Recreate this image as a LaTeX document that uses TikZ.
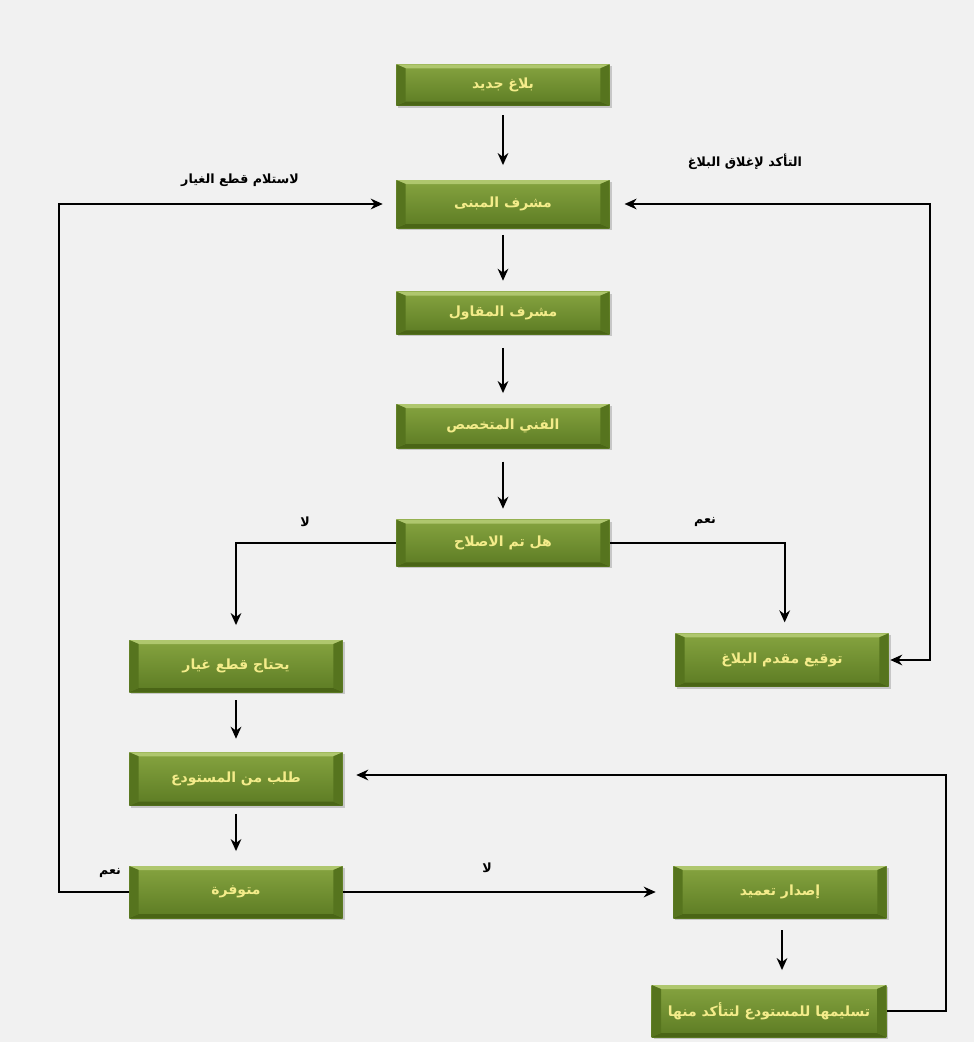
\documentclass[tikz,border=0pt]{standalone}
\usepackage{fontspec}
\newfontfamily\arabicfont[Script=Arabic]{DejaVu Sans}
\TeXXeTstate=1
\usetikzlibrary{arrows.meta}

\definecolor{pagebg}{HTML}{F1F1F1}
\definecolor{boxtop}{HTML}{86A440}
\definecolor{boxbot}{HTML}{5C7B23}
\definecolor{bevlight}{HTML}{AFC76E}
\definecolor{bevdark}{HTML}{4A6516}
\definecolor{bevside}{HTML}{56741E}
\definecolor{boxtext}{HTML}{F4EC8A}

\tikzset{
  stepbox/.style={
    minimum width=160pt, minimum height=33pt, inner sep=0pt,
    top color=boxtop, bottom color=boxbot,
    font=\arabicfont\bfseries\fontsize{10.5}{12}\selectfont, text=boxtext,
    path picture={
      \fill[bevlight] (path picture bounding box.north west) -- (path picture bounding box.north east)
        -- ([xshift=-7pt,yshift=-3pt]path picture bounding box.north east)
        -- ([xshift=7pt,yshift=-3pt]path picture bounding box.north west) -- cycle;
      \fill[bevdark] (path picture bounding box.south west) -- (path picture bounding box.south east)
        -- ([xshift=-7pt,yshift=3pt]path picture bounding box.south east)
        -- ([xshift=7pt,yshift=3pt]path picture bounding box.south west) -- cycle;
      \fill[bevside] (path picture bounding box.north west) -- ([xshift=7pt,yshift=-3pt]path picture bounding box.north west)
        -- ([xshift=7pt,yshift=3pt]path picture bounding box.south west) -- (path picture bounding box.south west) -- cycle;
      \fill[bevside] (path picture bounding box.north east) -- ([xshift=-7pt,yshift=-3pt]path picture bounding box.north east)
        -- ([xshift=-7pt,yshift=3pt]path picture bounding box.south east) -- (path picture bounding box.south east) -- cycle;
    },
    preaction={fill=black!22, transform canvas={xshift=1.5pt,yshift=-1.5pt}}
  },
  tip/.tip={Stealth[length=9pt,width=8pt]},
  arr/.style={line width=1.4pt, -tip},
  lbl/.style={font=\arabicfont\bfseries\fontsize{9.5}{11}\selectfont, text=black}
}

\newcommand{\ar}[1]{\beginR #1\endR}

\begin{document}
\begin{tikzpicture}[x=0.75pt,y=-0.75pt]
  % page
  \fill[pagebg] (0,0) rectangle (974,1042);
  \useasboundingbox (0,0) rectangle (974,1042);

  % steps of the workflow
  \node[stepbox, minimum height=31pt] (n1) at (503,85) {\ar{بلاغ جديد}};
  \node[stepbox, minimum height=36pt] (n2) at (503,204) {\ar{مشرف المبنى}};
  \node[stepbox, minimum height=32pt] (n3) at (503,313) {\ar{مشرف المقاول}};
  \node[stepbox, minimum height=33pt] (n4) at (503,426) {\ar{الفني المتخصص}};
  \node[stepbox, minimum height=35pt] (n5) at (503,543) {\ar{هل تم الاصلاح}};
  \node[stepbox, minimum height=39pt] (n6) at (236,666) {\ar{يحتاج قطع غيار}};
  \node[stepbox, minimum height=40pt] (n7) at (782,660) {\ar{توقيع مقدم البلاغ}};
  \node[stepbox, minimum height=40pt] (n8) at (236,779) {\ar{طلب من المستودع}};
  \node[stepbox, minimum height=39pt] (n9) at (236,892) {\ar{متوفرة}};
  \node[stepbox, minimum height=39pt] (n10) at (780,892) {\ar{إصدار تعميد}};
  \node[stepbox, minimum height=39pt, minimum width=176pt] (n11) at (769,1011) {\ar{تسليمها للمستودع لتتأكد منها}};

  % straight flow
  \draw[arr, shorten <=7pt, shorten >=11pt] (n1.south) -- (n2.north);
  \draw[arr, shorten <=5pt, shorten >=8pt] (n2.south) -- (n3.north);
  \draw[arr, shorten <=10pt, shorten >=8pt] (n3.south) -- (n4.north);
  \draw[arr, shorten <=10pt, shorten >=8pt] (n4.south) -- (n5.north);
  \draw[arr, shorten <=6pt, shorten >=10pt] (n6.south) -- (n8.north);
  \draw[arr, shorten <=6pt, shorten >=11pt] (n8.south) -- (n9.north);
  \draw[arr, shorten <=9pt, shorten >=11pt] ([xshift=1.5pt]n10.south) -- ([xshift=1.5pt]n10.south |- n11.north);

  % decision branches
  \draw[arr, shorten >=11pt] (n5.west) -| (n6.north);
  \draw[arr, shorten >=8pt] (n5.east) -| ([xshift=2pt]n7.north);
  \draw[arr, shorten >=13pt] (n9.east) -- (n10.west);

  % return loops
  \draw[line width=1.4pt, tip-tip, shorten <=11pt, shorten >=1pt]
    (n2.east) -- ++(320,0) |- (n7.east);
  \draw[arr, shorten >=10pt] (n9.west) -- ++(-70,0) |- (n2.west);
  \draw[arr, shorten >=10pt] (n11.east) -- ++(59,0) |- ([yshift=3pt]n8.east);

  % connector labels
  \node[lbl] (l1) at (305,522) {\ar{لا}};
  \node[lbl] (l2) at (705,522) {\ar{نعم}};
  \node[lbl] (l3) at (745,162) {\ar{التأكد لإغلاق البلاغ}};
  \node[lbl] (l4) at (240,180) {\ar{لاستلام قطع الغيار}};
  \node[lbl] (l5) at (110,873) {\ar{نعم}};
  \node[lbl] (l6) at (487,868) {\ar{لا}};
\end{tikzpicture}
\end{document}
